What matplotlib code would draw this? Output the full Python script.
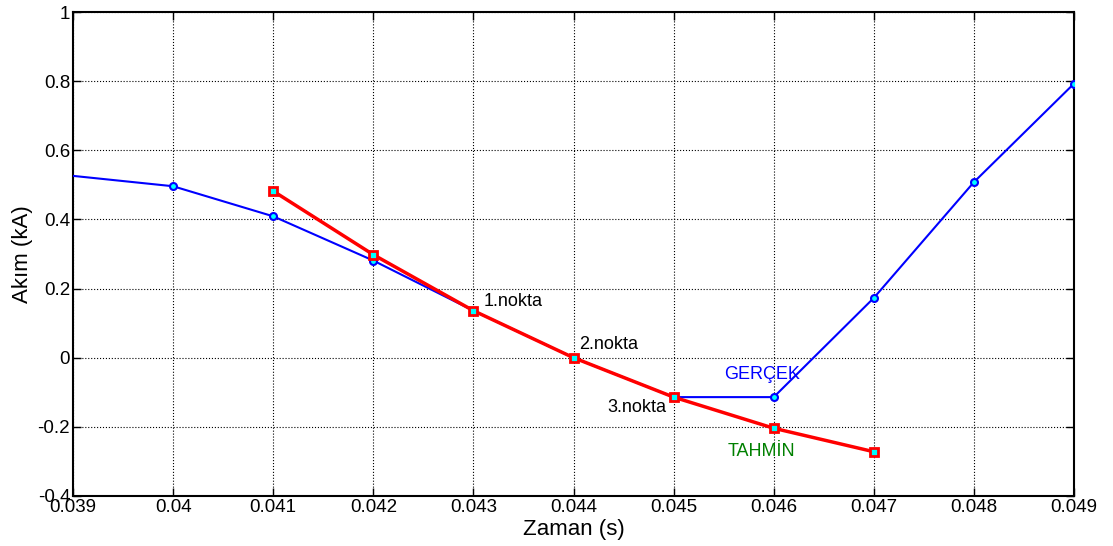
import matplotlib.pyplot as plt

plt.rcParams['font.family'] = ['Liberation Sans', 'DejaVu Sans']

# data
zaman_gercek = [0.039, 0.040, 0.041, 0.042, 0.043, 0.044, 0.045, 0.046, 0.047, 0.048, 0.049]
akim_gercek = [0.526, 0.496, 0.409, 0.281, 0.136, 0.0, -0.114, -0.114, 0.173, 0.508, 0.793]

zaman_tahmin = [0.041, 0.042, 0.043, 0.044, 0.045, 0.046, 0.047]
akim_tahmin = [0.482, 0.298, 0.136, 0.0, -0.114, -0.204, -0.272]

xticks = [0.039, 0.040, 0.041, 0.042, 0.043, 0.044, 0.045, 0.046, 0.047, 0.048, 0.049]
xtick_labels = ['0.039', '0.04', '0.041', '0.042', '0.043', '0.044', '0.045',
                '0.046', '0.047', '0.048', '0.049']
yticks = [-0.4, -0.2, 0, 0.2, 0.4, 0.6, 0.8, 1]
ytick_labels = ['-0.4', '-0.2', '0', '0.2', '0.4', '0.6', '0.8', '1']

fig = plt.figure(figsize=(11.13, 5.46), dpi=100)
ax = fig.add_axes([0.0656, 0.0916, 0.8994, 0.8864])

ax.plot(zaman_gercek, akim_gercek, '-o', color='b', lw=1.5, ms=5,
        mfc='#00ffff', mec='b', mew=1.5, markevery=slice(1, None), zorder=3)
ax.plot(zaman_tahmin, akim_tahmin, '-s', color='r', lw=2.5, ms=6,
        mfc='#00ffff', mec='r', mew=2, zorder=4)

ax.text(0.04310, 0.138, '1.nokta', fontsize=13, ha='left', va='bottom')
ax.text(0.04406, 0.015, '2.nokta', fontsize=13, ha='left', va='bottom')
ax.text(0.04493, -0.145, '3.nokta', fontsize=13, ha='right', va='center')
ax.text(0.04588, -0.05, 'GERÇEK', fontsize=13, color='b', ha='center', va='center')
ax.text(0.04588, -0.27, 'TAHMİN', fontsize=13, color='green', ha='center', va='center')

ax.set_xlim(0.039, 0.049)
ax.set_ylim(-0.4, 1)
ax.set_xticks(xticks)
ax.set_xticklabels(xtick_labels, fontsize=13.5)
ax.set_yticks(yticks)
ax.set_yticklabels(ytick_labels, fontsize=13.5)
ax.tick_params(direction='in', top=True, right=True, length=6, width=1, pad=2)

ax.grid(True, color='k', linestyle=':', linewidth=0.8)
for s in ax.spines.values():
    s.set_linewidth(1.5)

ax.set_xlabel('Zaman (s)', fontsize=16, labelpad=2)
ax.set_ylabel('Akım (kA)', fontsize=16, labelpad=3)

fig.savefig('out.png', dpi=100)
